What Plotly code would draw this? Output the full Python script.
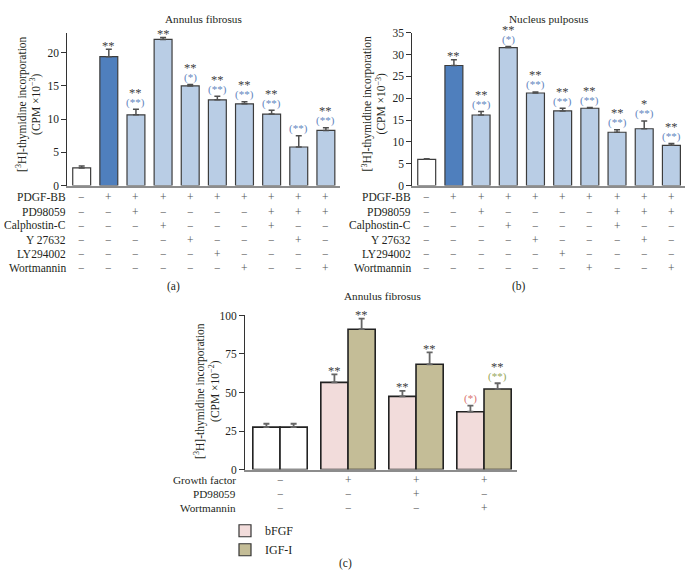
import plotly.graph_objects as go

W, H = 692, 581

# ---------------- data ----------------
conditions = list(range(10))
af_values = [2.65, 19.4, 10.65, 22.0, 15.0, 12.9, 12.3, 10.75, 5.8, 8.3]
af_errors = [0.3, 1.1, 0.85, 0.3, 0.2, 0.55, 0.3, 0.6, 1.7, 0.4]
np_values = [6.0, 27.5, 16.15, 31.6, 21.2, 17.1, 17.7, 12.2, 13.0, 9.2]
np_errors = [0.15, 1.3, 0.8, 0.25, 0.25, 0.6, 0.2, 0.6, 1.8, 0.45]

af_sig = ["", "**", "**", "**", "**", "**", "**", "**", "", "**"]
af_sig_vs = ["", "", "(**)", "", "(*)", "(**)", "(**)", "(**)", "(**)", "(**)"]
np_sig = ["", "**", "**", "**", "**", "**", "**", "**", "*", "**"]
np_sig_vs = ["", "", "(**)", "(*)", "(**)", "(**)", "(**)", "(**)", "(**)", "(**)"]

treatments_ab = ["PDGF-BB", "PD98059", "Calphostin-C", "Y 27632", "LY294002", "Wortmannin"]
matrix_ab = [
    "−+++++++++",
    "−−+−−−−+++",
    "−−−+−−−+−−",
    "−−−−+−−−+−",
    "−−−−−+−−−−",
    "−−−−−−+−−+",
]

groups_c = [0, 1, 2, 3]
bfgf_values = [27.5, 56.6, 47.5, 37.5]
bfgf_errors = [2.2, 5.1, 3.6, 4.0]
igf_values = [27.5, 91.1, 68.3, 52.3]
igf_errors = [2.2, 6.8, 7.8, 3.7]
bfgf_sig = ["", "**", "**", ""]
bfgf_sig_vs = ["", "", "", "(*)"]
igf_sig = ["", "**", "**", "**"]
igf_sig_vs = ["", "", "", "(**)"]

treatments_c = ["Growth factor", "PD98059", "Wortmannin"]
matrix_c = ["−+++", "−−+−", "−−−+"]

# ---------------- style ----------------
FONT = "Liberation Serif, DejaVu Serif, serif"
TXT = "#231f20"
PM = "#555555"
DARKBLUE = "#4f7fbd"
LIGHTBLUE = "#b9cde5"
EDGE = "#3c3c3c"
PINK = "#f2dcdb"
KHAKI = "#c4bd97"
SIG = "#404040"
SIGBLUE = "#6286c0"
SIGRED = "#d9736e"
SIGGREEN = "#98a85c"

ab_colors = ["white", DARKBLUE] + [LIGHTBLUE] * 8

def px_x(p):
    return p / W

def px_y(p):
    return 1 - p / H

fig = go.Figure()

def add_panel_bars(values, errors, xa, ya):
    fig.add_trace(go.Bar(
        x=conditions, y=values, width=0.66,
        marker=dict(color=ab_colors, line=dict(color=EDGE, width=1.2)),
        error_y=dict(type="data", symmetric=False, array=errors,
                     arrayminus=[0] * len(errors), color="#505050",
                     thickness=1.5, width=3),
        xaxis=xa, yaxis=ya, showlegend=False, hoverinfo="skip"))

add_panel_bars(af_values, af_errors, "x", "y")
add_panel_bars(np_values, np_errors, "x2", "y2")

c_colors_left = ["white"] + [PINK] * 3
c_colors_right = ["white"] + [KHAKI] * 3
fig.add_trace(go.Bar(
    x=groups_c, y=bfgf_values, width=0.4, offset=-0.4,
    marker=dict(color=c_colors_left, line=dict(color="#222222", width=1.6)),
    error_y=dict(type="data", symmetric=False, array=bfgf_errors,
                 arrayminus=[0] * 4, color="#666666", thickness=1.8, width=3),
    xaxis="x3", yaxis="y3", showlegend=False, hoverinfo="skip"))
fig.add_trace(go.Bar(
    x=groups_c, y=igf_values, width=0.4, offset=0.0,
    marker=dict(color=c_colors_right, line=dict(color="#222222", width=1.6)),
    error_y=dict(type="data", symmetric=False, array=igf_errors,
                 arrayminus=[0] * 4, color="#666666", thickness=1.8, width=3),
    xaxis="x3", yaxis="y3", showlegend=False, hoverinfo="skip"))
# legend entries
fig.add_trace(go.Bar(x=[None], y=[None], name="bFGF", xaxis="x3", yaxis="y3",
                     marker=dict(color=PINK, line=dict(color="#333", width=1.2))))
fig.add_trace(go.Bar(x=[None], y=[None], name="IGF-I", xaxis="x3", yaxis="y3",
                     marker=dict(color=KHAKI, line=dict(color="#333", width=1.2))))

ann = []

def add_sig(xs, values, errors, tops, parens, xref, yref, paren_color):
    for x, v, e, t, p in zip(xs, values, errors, tops, parens):
        if p:
            ann.append(dict(x=x, y=v + e, xref=xref, yref=yref, text=p,
                            showarrow=False, yanchor="middle", xanchor="center",
                            yshift=7,
                            font=dict(family=FONT, size=11, color=paren_color)))
        if t:
            ann.append(dict(x=x, y=v + e, xref=xref, yref=yref, text=t,
                            showarrow=False, yanchor="middle", xanchor="center",
                            yshift=16.5 if p else 3.5,
                            font=dict(family=FONT, size=12.5, color=SIG)))

add_sig(conditions, af_values, af_errors, af_sig, af_sig_vs, "x", "y", SIGBLUE)
add_sig(conditions, np_values, np_errors, np_sig, np_sig_vs, "x2", "y2", SIGBLUE)
add_sig([g - 0.2 for g in groups_c], bfgf_values, bfgf_errors, bfgf_sig, bfgf_sig_vs, "x3", "y3", SIGRED)
add_sig([g + 0.2 for g in groups_c], igf_values, igf_errors, igf_sig, igf_sig_vs, "x3", "y3", SIGGREEN)

# treatment tables
def add_table(labels, matrix, label_px, xref, y0, step, size):
    for r, (lab, row) in enumerate(zip(labels, matrix)):
        y = px_y(y0 + r * step)
        ann.append(dict(x=px_x(label_px), y=y, xref="paper", yref="paper", text=lab,
                        showarrow=False, xanchor="right", yanchor="middle",
                        font=dict(family=FONT, size=size, color=TXT)))
        for i, s in enumerate(row):
            ann.append(dict(x=i, y=y, xref=xref, yref="paper", text=s,
                            showarrow=False, xanchor="center", yanchor="middle",
                            font=dict(family=FONT, size=11.5, color=PM)))

add_table(treatments_ab, matrix_ab, 68, "x", 195.5, 14.4, 11.5)
add_table(treatments_ab, matrix_ab, 413, "x2", 195.5, 14.4, 11.5)
add_table(treatments_c, matrix_c, 238, "x3", 484, 14.5, 11.2)

# titles and panel letters
def text_at(px, py, t, size=12, angle=0):
    ann.append(dict(x=px_x(px), y=px_y(py), xref="paper", yref="paper", text=t,
                    showarrow=False, xanchor="center", yanchor="middle",
                    textangle=angle, font=dict(family=FONT, size=size, color=TXT)))

text_at(203.6, 13, "Annulus fibrosus", 11.2)
text_at(548.6, 13, "Nucleus pulposus", 11.2)
text_at(382, 296, "Annulus fibrosus", 11.2)
text_at(173, 286, "(a)", 11.5)
text_at(519, 286, "(b)", 11.5)
text_at(345, 569, "(c)", 11.5)

ytitle1 = "[<sup>3</sup>H]-thymidine incorporation"
text_at(22, 100, ytitle1, 11.5, -90)
text_at(36, 100, "(CPM ×10<sup>−3</sup>)", 11.5, -90)
text_at(367.5, 100, ytitle1, 11.5, -90)
text_at(381.5, 100, "(CPM ×10<sup>−3</sup>)", 11.5, -90)
text_at(200, 393, ytitle1, 11.5, -90)
text_at(215, 393, "(CPM ×10<sup>−2</sup>)", 11.5, -90)

xcommon = dict(showticklabels=False, ticks="", showline=True, linecolor="#8c8c8c",
               linewidth=1.5, showgrid=False, zeroline=False, fixedrange=True)
ycommon = dict(ticks="outside", ticklen=5, tickwidth=1, tickcolor="#333",
               showline=True, linecolor="#333", linewidth=1, showgrid=False,
               zeroline=False, tickfont=dict(family=FONT, size=11.5, color=TXT),
               fixedrange=True)

fig.update_layout(
    width=W, height=H,
    margin=dict(l=0, r=0, t=0, b=0),
    paper_bgcolor="white", plot_bgcolor="white",
    font=dict(family=FONT, color=TXT),
    barmode="overlay",
    xaxis=dict(domain=[px_x(67.3), px_x(340)], range=[-0.53, 9.52], anchor="y", **xcommon),
    yaxis=dict(domain=[px_y(183.3), px_y(27.3)], range=[0, 23], tickvals=[0, 5, 10, 15, 20],
               anchor="x", **ycommon),
    xaxis2=dict(domain=[px_x(412.3), px_x(685)], range=[-0.53, 9.5], anchor="y2", **xcommon),
    yaxis2=dict(domain=[px_y(183.3), px_y(27.3)], range=[0, 35], tickvals=[0, 5, 10, 15, 20, 25, 30, 35],
                anchor="x2", **ycommon),
    xaxis3=dict(domain=[px_x(245), px_x(517)], range=[-0.515, 3.485], anchor="y3", **xcommon),
    yaxis3=dict(domain=[px_y(473.3), px_y(316)], range=[0, 100], tickvals=[0, 25, 50, 75, 100],
                anchor="x3", **ycommon),
    legend=dict(x=px_x(225), y=px_y(521), xanchor="left", yanchor="top",
                font=dict(family=FONT, size=12, color=TXT), bgcolor="rgba(0,0,0,0)",
                itemwidth=30, tracegroupgap=0),
    annotations=ann,
    showlegend=True,
)

fig.write_html("out.html", config={"displayModeBar": False},
               post_script="document.body.style.margin='0px';document.body.style.padding='0px';")
